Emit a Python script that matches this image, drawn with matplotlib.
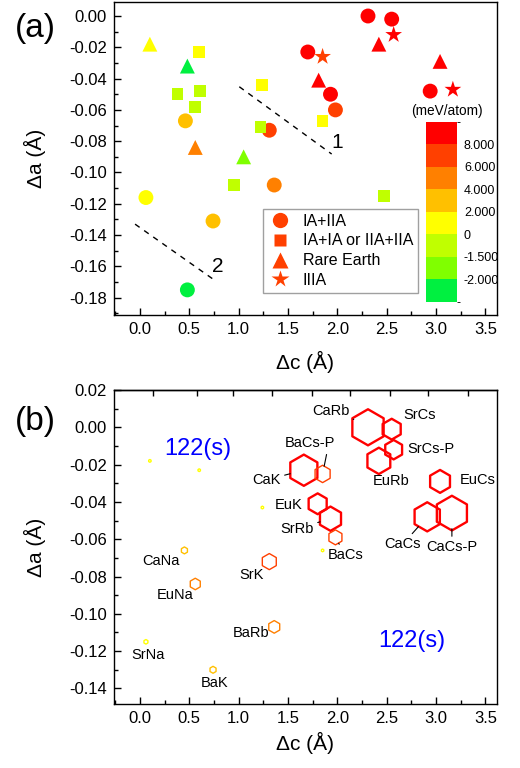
import matplotlib
matplotlib.use('Agg')
import matplotlib.pyplot as plt
import numpy as np
from matplotlib.colors import ListedColormap, BoundaryNorm
from matplotlib.lines import Line2D
from matplotlib.ticker import MultipleLocator, FormatStrFormatter, NullFormatter
import matplotlib.cm as cm

plt.rcParams['font.family'] = ['Liberation Sans', 'DejaVu Sans']
plt.rcParams['axes.unicode_minus'] = False

# ---------------- colour scale (meV/atom) ----------------
level_bounds = [-3.0, -2.0, -1.5, 0.0, 2.0, 4.0, 6.0, 8.0, 10.0]
level_colors = ['#00F040', '#80FF00', '#C0FF00', '#FFFF00', '#FFC000', '#FF8000', '#FF4000', '#FF0000']
cbar_ticks = [-2.0, -1.5, 0.0, 2.0, 4.0, 6.0, 8.0]
cbar_labels = ['-2.000', '-1.500', '0', '2.000', '4.000', '6.000', '8.000']

# ---------------- panel (a) data ----------------
circ_c = [0.06, 0.46, 0.48, 0.74, 1.31, 1.36, 1.70, 1.93, 1.98, 2.31, 2.55, 2.94]
circ_a = [-0.116, -0.067, -0.175, -0.131, -0.073, -0.108, -0.023, -0.050, -0.060, 0.000, -0.002, -0.048]
circ_e = [1, 3, -2.5, 3, 7, 5, 9, 9, 7, 9, 9, 9]

sq_c = [0.60, 0.38, 0.61, 0.56, 1.24, 1.22, 0.95, 1.85, 2.47]
sq_a = [-0.023, -0.050, -0.048, -0.058, -0.044, -0.071, -0.108, -0.067, -0.115]
sq_e = [1, -0.75, -0.75, -0.75, 1, -0.75, -0.75, 1, -0.75]

tri_c = [0.10, 0.48, 0.56, 1.05, 1.81, 2.42, 3.04]
tri_a = [-0.018, -0.032, -0.084, -0.090, -0.041, -0.018, -0.029]
tri_e = [1, -2.5, 5, -1.75, 9, 9, 9]

star_c = [1.85, 2.57, 3.17]
star_a = [-0.026, -0.012, -0.047]
star_e = [7, 9, 9]

legend_labels = ['IA+IIA', 'IA+IA or IIA+IIA', 'Rare Earth', 'IIIA']

# ---------------- panel (b) data ----------------
hex_names = ['CaRb', 'SrCs', 'SrCs-P', 'EuRb', 'CaK', 'BaCs-P', 'EuCs', 'EuK', 'SrRb',
             'CaCs', 'CaCs-P', 'BaCs', 'SrK', 'BaRb', 'EuNa', 'CaNa', 'BaK', 'SrNa',
             '', '', '', '']
hex_c = [2.31, 2.55, 2.57, 2.42, 1.66, 1.85, 3.04, 1.80, 1.93,
         2.91, 3.16, 1.98, 1.31, 1.36, 0.56, 0.45, 0.74, 0.06,
         0.10, 0.60, 1.24, 1.85]
hex_a = [0.000, -0.001, -0.012, -0.018, -0.023, -0.025, -0.029, -0.041, -0.049,
         -0.048, -0.046, -0.059, -0.072, -0.107, -0.084, -0.066, -0.130, -0.115,
         -0.018, -0.023, -0.043, -0.066]
hex_size = [26, 15, 14, 19, 22.5, 12.5, 16.5, 15, 17.5,
            21, 25, 10.8, 11.6, 9.1, 8.3, 5, 5, 3.3,
            2, 2, 2, 2]
hex_e = [9, 9, 9, 9, 9, 7, 9, 9, 9,
         9, 9, 7, 7, 5, 5, 3, 3, 1,
         1, 1, 1, 1]
# label positions (data coordinates) and whether a leader line is drawn
lab_c = [1.93, 2.83, 2.95, 2.54, 1.28, 1.72, 3.42, 1.51, 1.59,
         2.66, 3.16, 2.08, 1.13, 1.13, 0.36, 0.21, 0.76, 0.08]
lab_a = [0.0089, 0.0066, -0.0116, -0.0289, -0.0282, -0.0086, -0.0280, -0.0414, -0.0544,
         -0.0628, -0.0644, -0.0686, -0.0794, -0.1105, -0.0900, -0.0717, -0.1370, -0.1222]
lab_leader = [True, False, False, False, True, True, False, False, True,
              True, True, True, False, False, False, False, False, False]
lab_relpos = {0: (0.9, 0.2), 5: (0.85, 0.0)}

# top-axis tick positions of panel (b) (as drawn in the original)
top_ticks_b = [0.135, 0.574, 0.946, 1.334, 1.739, 2.128, 2.533, 2.921, 3.326]

# ---------------- figure ----------------
W, H = 520, 768
fig = plt.figure(figsize=(W / 100, H / 100), dpi=100)

cmap = ListedColormap(level_colors)
norm = BoundaryNorm(level_bounds, cmap.N)

XL, XR = 114, 497
ax1 = fig.add_axes([XL / W, 1 - 315 / H, (XR - XL) / W, 313 / H])
ax2 = fig.add_axes([XL / W, 1 - 704 / H, (XR - XL) / W, 314 / H])

xlim = ((XL - 140) / 98.7, (XR - 140) / 98.7)

for ax, xly in ((ax1, -46.7 / 313), (ax2, -38.5 / 314)):
    ax.set_xlim(*xlim)
    ax.xaxis.set_major_locator(MultipleLocator(0.5))
    ax.xaxis.set_minor_locator(MultipleLocator(0.25))
    ax.yaxis.set_major_locator(MultipleLocator(0.02))
    ax.yaxis.set_minor_locator(MultipleLocator(0.01))
    ax.xaxis.set_major_formatter(FormatStrFormatter('%.1f'))
    ax.yaxis.set_major_formatter(FormatStrFormatter('%.2f'))
    ax.tick_params(which='major', direction='in', length=5, width=1, labelsize=12,
                   top=False, right=False, pad=5)
    ax.tick_params(which='minor', direction='in', length=3, width=1, top=False, right=False)
    for s in ax.spines.values():
        s.set_linewidth(1.0)
    ax.set_xlabel('\u0394c (\u00c5)', fontsize=15, va='center')
    ax.set_ylabel('\u0394a (\u00c5)', fontsize=15, va='center')
    ax.xaxis.set_label_coords(0.5, xly)
    ax.yaxis.set_label_coords((35 - XL) / (XR - XL), 0.5)

# ----- panel (a) -----
ax1.set_ylim((16 - 315) / 1565, (16 - 2) / 1565)
ax1.scatter(circ_c, circ_a, c=circ_e, cmap=cmap, norm=norm, marker='o', s=115, linewidths=0, zorder=3)
ax1.scatter(sq_c, sq_a, c=sq_e, cmap=cmap, norm=norm, marker='s', s=72, linewidths=0, zorder=3)
ax1.scatter(tri_c, tri_a, c=tri_e, cmap=cmap, norm=norm, marker='^', s=115, linewidths=0, zorder=3)
ax1.scatter(star_c, star_a, c=star_e, cmap=cmap, norm=norm, marker='*', s=160, linewidths=0, zorder=3)

ax1.plot([1.006, 1.942], [-0.0452, -0.0882], color='k', lw=1.0, dashes=(4, 4))
ax1.plot([-0.05, 0.76], [-0.133, -0.169], color='k', lw=1.0, dashes=(4, 4))
ax1.text(1.993, -0.081, '1', fontsize=15, ha='center', va='center')
ax1.text(0.783, -0.160, '2', fontsize=15, ha='center', va='center')

leg_col = '#FF4000'
handles = [Line2D([], [], ls='none', marker='o', ms=11, mfc=leg_col, mec='none'),
           Line2D([], [], ls='none', marker='s', ms=8.5, mfc=leg_col, mec='none'),
           Line2D([], [], ls='none', marker='^', ms=11, mfc=leg_col, mec='none'),
           Line2D([], [], ls='none', marker='*', ms=13, mfc=leg_col, mec='none')]
leg = ax1.legend(handles, legend_labels, loc='lower left',
                 bbox_to_anchor=((262.7 - XL) / (XR - XL), (315 - 292.7) / 313),
                 fontsize=11.5, frameon=True, fancybox=False, borderpad=0.3,
                 labelspacing=0.3, handletextpad=0.6, handlelength=1.6, borderaxespad=0)
leg.get_frame().set_edgecolor('#888888')
leg.get_frame().set_linewidth(1.0)

# colour bar
cax = fig.add_axes([426 / W, 1 - 301.7 / H, 31 / W, 180 / H])
sm = cm.ScalarMappable(norm=norm, cmap=cmap)
cb = fig.colorbar(sm, cax=cax, boundaries=level_bounds, spacing='uniform', ticks=cbar_ticks)
cb.outline.set_visible(False)
cb.ax.set_yticklabels(cbar_labels)
cb.ax.tick_params(length=0, labelsize=9, pad=5)
fig.text(446.7 / W, 1 - 111 / H, '(meV/atom)', fontsize=9.8, ha='center', va='center')

# ----- panel (b) -----
ax2.set_ylim((426.6 - 704) / 1870, 0.02)
for i in range(len(hex_c)):
    col = level_colors[np.searchsorted(level_bounds, hex_e[i]) - 1]
    lw = 1.7 if hex_size[i] >= 14 else 1.0
    ax2.scatter([hex_c[i]], [hex_a[i]], marker='h', s=hex_size[i] ** 2,
                facecolors='none', edgecolors=col, linewidths=lw, zorder=3)

for i in range(len(lab_c)):
    if lab_leader[i]:
        ax2.annotate(hex_names[i], xy=(hex_c[i], hex_a[i]), xytext=(lab_c[i], lab_a[i]),
                     fontsize=10.5, ha='center', va='center',
                     arrowprops=dict(arrowstyle='-', color='k', lw=0.8,
                                     relpos=lab_relpos.get(i, (0.5, 0.5)),
                                     shrinkA=1, shrinkB=hex_size[i] * 0.45))
    else:
        ax2.text(lab_c[i], lab_a[i], hex_names[i], fontsize=10.5, ha='center', va='center')

ax2.text(0.59, -0.0116, '122(s)', color='#0000FF', fontsize=17, ha='center', va='center')
ax2.text(2.753, -0.1145, '122(s)', color='#0000FF', fontsize=17, ha='center', va='center')

sec = ax2.secondary_xaxis('top')
sec.set_xticks(top_ticks_b)
sec.xaxis.set_major_formatter(NullFormatter())
sec.tick_params(direction='in', length=4, width=1)
sec.spines['top'].set_linewidth(1.0)

fig.text(35 / W, 1 - 29 / H, '(a)', fontsize=24, ha='center', va='center')
fig.text(35 / W, 1 - 421.7 / H, '(b)', fontsize=24, ha='center', va='center')

fig.savefig('out.png', dpi=100)
